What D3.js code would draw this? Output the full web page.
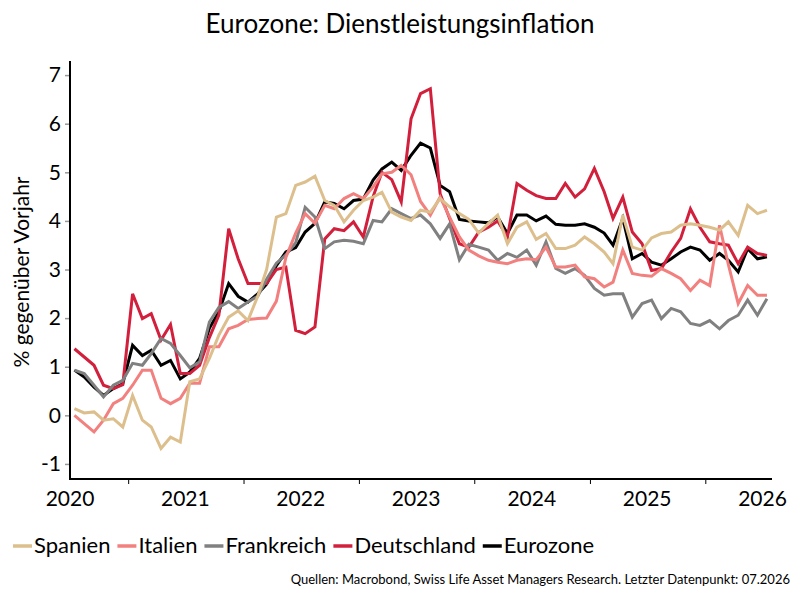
<!DOCTYPE html>
<html>
<head>
<meta charset="utf-8">
<script src="https://cdn.jsdelivr.net/npm/d3@7/dist/d3.min.js"></script>
<style>
  body { margin: 0; background: #fff; }
  svg text { font-family: Lato, "Open Sans", sans-serif; fill: #000; }
</style>
</head>
<body>
<svg id="chart" width="800" height="600"></svg>
<script>
// monthly data, 07.2020 .. 07.2026 (% yoy)
const spanien = [
  0.14, 0.05, 0.07, -0.1, -0.07, -0.24, 0.41, -0.1, -0.24, -0.68, -0.45, -0.55,
  0.69, 0.75, 1.17, 1.65, 2.02, 2.15, 1.95, 2.45, 3.0, 4.08, 4.15, 4.73,
  4.8, 4.92, 4.42, 4.32, 3.98, 4.22, 4.42, 4.49, 4.59, 4.18, 4.08, 4.01,
  4.22, 4.18, 4.46, 4.29, 4.15, 4.03, 3.75, 3.95, 4.12, 3.53, 3.87, 3.98,
  3.62, 3.74, 3.43, 3.43, 3.5, 3.67, 3.53, 3.36, 3.12, 4.12, 3.46, 3.4,
  3.65, 3.74, 3.77, 3.91, 3.94, 3.91, 3.87, 3.81, 3.98, 3.7, 4.32, 4.15, 4.22
];
const italien = [
  0.0, -0.17, -0.34, -0.1, 0.24, 0.35, 0.62, 0.93, 0.93, 0.35, 0.24, 0.35,
  0.66, 0.66, 1.41, 1.41, 1.78, 1.85, 1.97, 1.99, 2.0, 2.35, 3.25, 3.75,
  4.15, 3.95, 4.32, 4.25, 4.46, 4.56, 4.46, 4.7, 4.97, 5.0, 5.14, 4.95,
  4.4, 4.12, 4.49, 4.08, 3.67, 3.4, 3.28, 3.19, 3.15, 3.12, 3.19, 3.22,
  3.2, 3.46, 3.05, 3.05, 3.09, 2.85, 2.81, 2.64, 2.74, 3.4, 2.92, 2.88,
  2.86, 3.02, 2.92, 2.81, 2.57, 2.78, 2.67, 3.91, 3.1, 2.3, 2.67, 2.47, 2.47
];
const frankreich = [
  0.93, 0.86, 0.62, 0.38, 0.62, 0.72, 1.07, 1.03, 1.27, 1.58, 1.48, 1.23,
  0.98, 1.1, 1.92, 2.22, 2.34, 2.2, 2.33, 2.45, 2.8, 3.13, 3.3, 3.55,
  4.28, 4.08, 3.43, 3.57, 3.6, 3.58, 3.53, 4.01, 3.98, 4.25, 4.15, 4.05,
  4.12, 3.94, 3.64, 3.94, 3.2, 3.52, 3.46, 3.4, 3.19, 3.33, 3.25, 3.4,
  3.09, 3.57, 3.02, 2.92, 3.02, 2.88, 2.61, 2.47, 2.5, 2.5, 2.02, 2.3,
  2.37, 1.99, 2.2, 2.13, 1.89, 1.85, 1.95, 1.78, 1.95, 2.06, 2.37, 2.06, 2.4
];
const deutschland = [
  1.37, 1.2, 1.03, 0.62, 0.55, 0.63, 2.5, 1.99, 2.09, 1.55, 1.87, 0.86,
  0.86, 1.03, 1.6, 2.06, 3.84, 3.22, 2.71, 2.71, 2.71, 3.0, 3.05, 1.75,
  1.68, 1.82, 3.63, 3.84, 3.8, 3.98, 3.67, 4.5, 5.0, 4.85, 4.39, 6.1,
  6.62, 6.72, 4.56, 4.05, 3.53, 3.46, 3.77, 3.87, 4.0, 3.67, 4.77, 4.63,
  4.52, 4.46, 4.46, 4.77, 4.49, 4.66, 5.08, 4.6, 4.05, 4.49, 3.77, 3.53,
  2.98, 3.02, 3.36, 3.64, 4.25, 3.87, 3.57, 3.53, 3.5, 3.12, 3.46, 3.33, 3.29
];
const eurozone = [
  0.93, 0.79, 0.58, 0.41, 0.55, 0.65, 1.44, 1.23, 1.34, 1.03, 1.13, 0.75,
  0.89, 1.17, 1.79, 2.13, 2.71, 2.45, 2.33, 2.5, 2.7, 3.08, 3.36, 3.45,
  3.77, 3.95, 4.39, 4.36, 4.25, 4.42, 4.45, 4.84, 5.07, 5.21, 5.04, 5.35,
  5.6, 5.5, 4.73, 4.6, 4.03, 4.0, 3.98, 3.96, 4.08, 3.74, 4.12, 4.12,
  4.0, 4.1, 3.93, 3.91, 3.91, 3.94, 3.87, 3.75, 3.5, 4.05, 3.22, 3.33,
  3.15, 3.09, 3.22, 3.36, 3.46, 3.4, 3.19, 3.33, 3.19, 2.95, 3.43, 3.22, 3.26
];

const seriesNames  = ['Spanien', 'Italien', 'Frankreich', 'Deutschland', 'Eurozone'];
const seriesValues = [spanien, italien, frankreich, deutschland, eurozone];
const seriesColours = ['#dcbf8c', '#f2807f', '#808080', '#d21f3c', '#000000'];

const yTicks = [-1, 0, 1, 2, 3, 4, 5, 6, 7];
const xYears = [2020, 2021, 2022, 2023, 2024, 2025, 2026];

const title = 'Eurozone: Dienstleistungsinflation';
const yTitle = '% gegenüber Vorjahr';
const source = 'Quellen: Macrobond, Swiss Life Asset Managers Research. Letzter Datenpunkt: 07.2026';

//-------------------------------------------------------------------------------

const svg = d3.select('#chart');
const plot = { left: 70, right: 772, top: 61, bottom: 479 };

// one point per month, plotted mid-month
const months = d3.timeMonth.range(new Date(2020, 6, 1), new Date(2026, 7, 1))
                 .map(d => new Date(d.getFullYear(), d.getMonth(), 15));

const x = d3.scaleTime()
    .domain([new Date(2020, 6, 1), new Date(2026, 6, 31)])
    .range([plot.left, plot.right]);

const y = d3.scaleLinear()
    .domain([-1.31, 7.29])
    .range([plot.bottom, plot.top]);

// title
svg.append('text')
    .attr('x', 400).attr('y', 33)
    .attr('text-anchor', 'middle')
    .style('font-size', '26px')
    .text(title);

// y axis
const yAxis = svg.append('g')
    .attr('transform', `translate(${plot.left},0)`)
    .call(d3.axisLeft(y).tickValues(yTicks).tickSize(5).tickSizeOuter(0).tickFormat(d => String(d)));
yAxis.select('.domain').remove();
yAxis.selectAll('.tick line').attr('stroke', '#999').attr('stroke-width', 1.5);
yAxis.selectAll('.tick text')
    .attr('x', -9)
    .style('font-size', '21px')
    .style('font-family', 'Lato, sans-serif');

svg.append('text')
    .attr('transform', `translate(29,${(plot.top + plot.bottom) / 2 + 2}) rotate(-90)`)
    .attr('text-anchor', 'middle')
    .style('font-size', '21px')
    .text(yTitle);

// x axis: ticks at year boundaries, labels in the middle of each year
const xAxis = svg.append('g')
    .attr('transform', `translate(0,${plot.bottom})`)
    .call(d3.axisBottom(x)
        .tickValues(xYears.slice(1).map(yr => new Date(yr, 0, 1)))
        .tickSize(5).tickSizeOuter(0).tickFormat(''));
xAxis.select('.domain').remove();
xAxis.selectAll('.tick line').attr('stroke', '#000').attr('stroke-width', 1);

svg.append('g')
    .selectAll('text')
    .data(xYears)
    .join('text')
    .attr('x', yr => x(new Date(yr, 6, 1)))
    .attr('y', 506)
    .attr('text-anchor', 'middle')
    .style('font-size', '21px')
    .text(yr => yr);

// series lines, Eurozone underneath
const line = d3.line()
    .x((v, i) => x(months[i]))
    .y(v => y(v));

const drawOrder = [4, 3, 2, 1, 0];
svg.append('g')
    .selectAll('path')
    .data(drawOrder)
    .join('path')
    .attr('d', k => line(seriesValues[k]))
    .attr('fill', 'none')
    .attr('stroke', k => seriesColours[k])
    .attr('stroke-width', 3)
    .attr('stroke-linejoin', 'miter');

// axis lines on top
svg.append('line')
    .attr('x1', plot.left).attr('x2', plot.left)
    .attr('y1', plot.top).attr('y2', plot.bottom + 1)
    .attr('stroke', '#000').attr('stroke-width', 2);
svg.append('line')
    .attr('x1', plot.left - 1).attr('x2', plot.right)
    .attr('y1', plot.bottom).attr('y2', plot.bottom)
    .attr('stroke', '#000').attr('stroke-width', 2);

// legend
const legend = svg.append('g').attr('transform', 'translate(13,553)');
let lx = 0;
seriesNames.forEach((name, k) => {
    legend.append('line')
        .attr('x1', lx).attr('x2', lx + 19)
        .attr('y1', -7).attr('y2', -7)
        .attr('stroke', seriesColours[k]).attr('stroke-width', 3.5);
    const t = legend.append('text')
        .attr('x', lx + 21).attr('y', 0)
        .style('font-size', '22px')
        .text(name);
    lx += 21 + t.node().getComputedTextLength() + 7;
});

// source note
svg.append('text')
    .attr('x', 790).attr('y', 584)
    .attr('text-anchor', 'end')
    .style('font-size', '13px')
    .text(source);
</script>
</body>
</html>
